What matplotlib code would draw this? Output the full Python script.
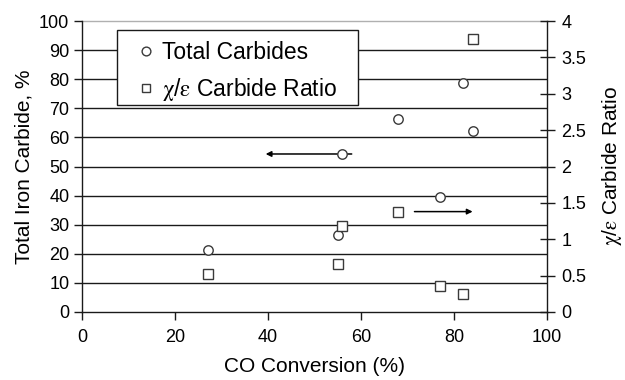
import matplotlib
matplotlib.use("Agg")
import matplotlib.pyplot as plt
from matplotlib.lines import Line2D
from matplotlib.patches import Rectangle

plt.rcParams['font.family'] = ['Liberation Sans', 'DejaVu Sans']
plt.rcParams['mathtext.fontset'] = 'stix'

# CO conversion (%) and total iron carbide (%) for each run
conv_total = [27, 55, 56, 68, 77, 82, 84]
total_carbides = [21.3, 26.5, 54.3, 66.3, 39.6, 78.6, 62.3]

# CO conversion (%) and chi/epsilon carbide ratio
conv_ratio = [27, 55, 56, 68, 77, 82, 84]
carbide_ratio = [0.52, 0.66, 1.18, 1.38, 0.36, 0.25, 3.75]

x_ticks = [0, 20, 40, 60, 80, 100]
left_ticks = list(range(0, 101, 10))
right_ticks = [0, 0.5, 1, 1.5, 2, 2.5, 3, 3.5, 4]
right_tick_labels = ['0', '0.5', '1', '1.5', '2', '2.5', '3', '3.5', '4']

ratio_name = r'$\mathrm{\chi}$/$\mathrm{\varepsilon}$ Carbide Ratio'

edge = '#3a3a3a'
W, H = 625, 380
X0, X1, Y0, Y1 = 82, 547, 312, 21   # plot area in pixels

fig = plt.figure(figsize=(W / 100, H / 100), dpi=100)
ax = fig.add_axes([X0 / W, 1 - Y0 / H, (X1 - X0) / W, (Y0 - Y1) / H])
ax2 = ax.twinx()

ax.set_xlim(0, 100)
ax.set_ylim(0, 100)
ax2.set_ylim(0, 4)

# horizontal gridlines
for v in left_ticks[1:-1]:
    ax.axhline(v, color='#1a1a1a', lw=1.0, zorder=1)
ax.axhline(100, color='#b0b0b0', lw=1.0, zorder=1, clip_on=False)

ax.plot(conv_total, total_carbides, linestyle='none', marker='o', ms=6.8,
        mfc='white', mec=edge, mew=1.0, zorder=3, clip_on=False)
ax2.plot(conv_ratio, carbide_ratio, linestyle='none', marker='s', ms=6.8,
         mfc='white', mec=edge, mew=1.0, zorder=3, clip_on=False)

# arrows pointing to the axis each series belongs to
ax.annotate('', xy=(39.5, 54.3), xytext=(58, 54.3),
            arrowprops=dict(arrowstyle='-|>', color='black', lw=1.1,
                            mutation_scale=8, shrinkA=0, shrinkB=0), zorder=2)
ax2.annotate('', xy=(84, 1.38), xytext=(71.5, 1.38),
             arrowprops=dict(arrowstyle='-|>', color='black', lw=1.1,
                             mutation_scale=8, shrinkA=0, shrinkB=0), zorder=2)

for a in (ax, ax2):
    a.spines['top'].set_visible(False)
    for s in ('left', 'right', 'bottom'):
        a.spines[s].set_color('#1a1a1a')
        a.spines[s].set_linewidth(1.0)
ax.spines['right'].set_visible(False)
ax2.spines['left'].set_visible(False)
ax2.spines['bottom'].set_visible(False)

ax.set_xticks(x_ticks)
ax.set_yticks(left_ticks)
ax2.set_yticks(right_ticks)
ax2.set_yticklabels(right_tick_labels)

ax.tick_params(axis='y', direction='out', length=6, width=1.0, color='#1a1a1a',
               labelsize=13, pad=3.1)
ax.tick_params(axis='x', direction='out', length=5.5, width=1.0, color='#1a1a1a',
               labelsize=13, pad=7)
ax2.tick_params(axis='y', direction='inout', length=10.8, width=1.0, color='#1a1a1a',
                labelsize=13, pad=5)

ax.set_xlabel('CO Conversion (%)', fontsize=15, labelpad=7.5)
ax.set_ylabel('Total Iron Carbide, %', fontsize=15, labelpad=4)
ax2.set_ylabel(ratio_name, fontsize=15, labelpad=9.5)

handles = [
    Line2D([], [], linestyle='none', marker='o', ms=6.3, mfc='white', mec=edge, mew=1.0),
    Line2D([], [], linestyle='none', marker='s', ms=6.3, mfc='white', mec=edge, mew=1.0),
]
labels = ['Total Carbides', ratio_name]

# legend box spans pixels x 117..358, y 30..105
lx0 = (117 - X0) / (X1 - X0)
lx1 = (358 - X0) / (X1 - X0)
ly1 = (Y0 - 30) / (Y0 - Y1)
ly0 = (Y0 - 105) / (Y0 - Y1)
box = Rectangle((lx0, ly0), lx1 - lx0, ly1 - ly0, transform=ax2.transAxes,
                facecolor='white', edgecolor='#1a1a1a', lw=1.0, zorder=4)
ax2.add_patch(box)
leg = ax2.legend(handles, labels, loc='upper left', mode='expand',
                 bbox_to_anchor=(lx0, ly0, lx1 - lx0, ly1 - ly0),
                 borderaxespad=0, fontsize=16.5, frameon=False,
                 borderpad=0.47, handletextpad=-0.11, handlelength=1.62,
                 labelspacing=0.52)
leg.set_zorder(5)

fig.savefig('out.png', dpi=100, facecolor='white')
